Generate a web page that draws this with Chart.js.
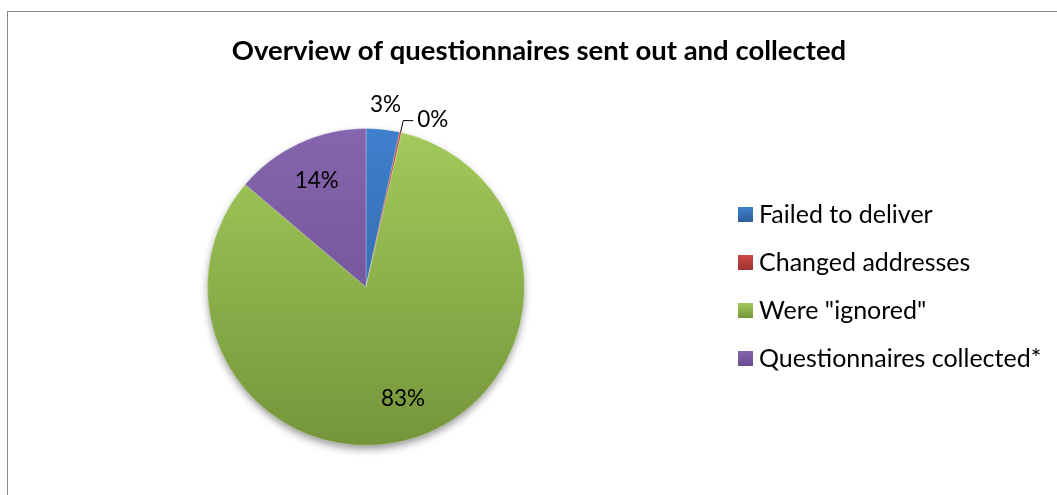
<!DOCTYPE html>
<html>
<head>
<meta charset="utf-8">
<script src="https://cdn.jsdelivr.net/npm/chart.js@4"></script>
<style>
  body { margin: 0; background: #fff; overflow: hidden; }
  #frame { position: absolute; left: 7px; top: 11px; width: 1100px; height: 540px;
           border-left: 1px solid #8a8a8a; border-top: 1px solid #8a8a8a; }
  #wrap { position: absolute; left: 0; top: 0; width: 1057px; height: 495px; }
</style>
</head>
<body>
<div id="frame"></div>
<div id="wrap"><canvas id="myChart" width="1057" height="495"></canvas></div>
<script>
var titleText = 'Overview of questionnaires sent out and collected';
var categories = ['Failed to deliver', 'Changed addresses', 'Were "ignored"', 'Questionnaires collected*'];
var shares = [3.4, 0.2, 82.6, 13.8];
var topColors = ['#3f7fcc', '#cc4744', '#a3ca5b', '#8565ad'];
var bottomColors = ['#2f5f9c', '#9c3230', '#74953a', '#694b8e'];

var FONT = 'Lato, "Open Sans", sans-serif';

function pieFill(c) {
    var chart = c.chart, area = chart.chartArea;
    if (!area) return topColors[c.dataIndex];
    var g = chart.ctx.createLinearGradient(0, area.top, 0, area.bottom);
    g.addColorStop(0, topColors[c.dataIndex]);
    g.addColorStop(1, bottomColors[c.dataIndex]);
    return g;
}

// shadow under the whole pie
var shadowPlugin = {
    id: 'pieShadow',
    beforeDatasetsDraw: function (chart) {
        var arc = chart.getDatasetMeta(0).data[0];
        if (!arc) return;
        var ctx = chart.ctx;
        ctx.save();
        ctx.shadowColor = 'rgba(0,0,0,0.45)';
        ctx.shadowBlur = 9;
        ctx.shadowOffsetY = 4;
        ctx.fillStyle = '#8aa84e';
        ctx.beginPath();
        ctx.arc(arc.x, arc.y, arc.outerRadius - 1, 0, Math.PI * 2);
        ctx.fill();
        ctx.restore();
    }
};

// title, percentage labels and legend
var textPlugin = {
    id: 'texts',
    afterDraw: function (chart) {
        var ctx = chart.ctx;
        ctx.save();
        ctx.fillStyle = '#000';
        ctx.textBaseline = 'middle';

        ctx.font = 'bold 27.5px ' + FONT;
        ctx.textAlign = 'center';
        ctx.fillText(titleText, 539, 51);

        var meta = chart.getDatasetMeta(0);
        ctx.font = '22.5px ' + FONT;
        meta.data.forEach(function (arc, i) {
            var mid = (arc.startAngle + arc.endAngle) / 2;
            var r = arc.outerRadius;
            var pct = Math.round(shares[i]) + '%';
            if (i === 0) {
                ctx.textAlign = 'center';
                ctx.fillText(pct, arc.x + Math.cos(mid) * (r + 25), arc.y + Math.sin(mid) * (r + 25));
            } else if (i === 1) {
                var x0 = arc.x + Math.cos(mid) * r, y0 = arc.y + Math.sin(mid) * r;
                var x1 = arc.x + Math.cos(mid) * (r + 12), y1 = arc.y + Math.sin(mid) * (r + 12);
                ctx.strokeStyle = '#000';
                ctx.lineWidth = 1;
                ctx.beginPath();
                ctx.moveTo(x0, y0);
                ctx.lineTo(x1, y1);
                ctx.lineTo(x1 + 10, y1);
                ctx.stroke();
                ctx.textAlign = 'left';
                ctx.fillText(pct, x1 + 14, y1 - 1);
            } else {
                ctx.textAlign = 'center';
                ctx.fillText(pct, arc.x + Math.cos(mid) * r * 0.74, arc.y + Math.sin(mid) * r * 0.74);
            }
        });

        // legend
        ctx.font = '25px ' + FONT;
        ctx.textAlign = 'left';
        for (var i = 0; i < categories.length; i++) {
            var cy = 214.5 + i * 48;
            var g = ctx.createLinearGradient(0, cy - 7.5, 0, cy + 7.5);
            g.addColorStop(0, topColors[i]);
            g.addColorStop(1, bottomColors[i]);
            ctx.fillStyle = g;
            ctx.fillRect(738, cy - 7.5, 15, 15);
            ctx.fillStyle = '#000';
            ctx.fillText(categories[i], 759, cy);
        }
        ctx.restore();
    }
};

var ctx = document.getElementById('myChart').getContext('2d');
var myChart = new Chart(ctx, {
    type: 'pie',
    data: {
        labels: categories,
        datasets: [{
            data: shares,
            backgroundColor: pieFill,
            borderColor: 'rgba(255,255,255,0.25)',
            borderWidth: 1
        }]
    },
    options: {
        responsive: false,
        animation: false,
        layout: { padding: { left: 207, right: 532, top: 128, bottom: 49 } },
        plugins: {
            legend: { display: false },
            title: { display: false },
            tooltip: { enabled: false }
        }
    },
    plugins: [shadowPlugin, textPlugin]
});
</script>
</body>
</html>
